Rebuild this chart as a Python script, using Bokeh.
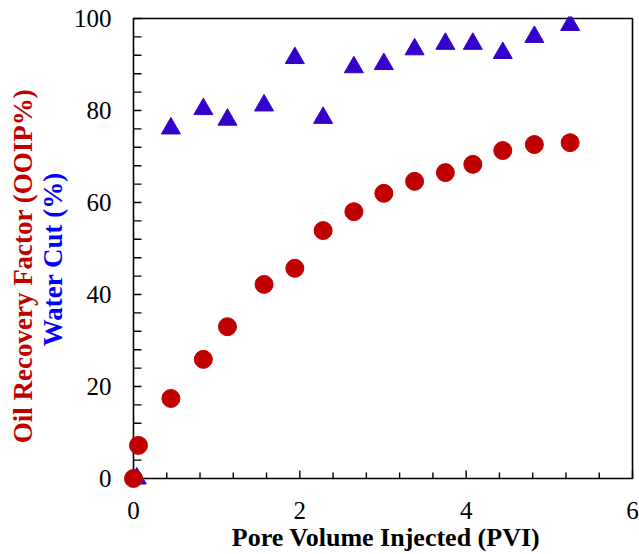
from bokeh.plotting import figure
from bokeh.models import LinearAxis, SingleIntervalTicker, FixedTicker, Range1d
from bokeh.embed import file_html
from bokeh.resources import INLINE

# Oil recovery factor series (red circles)
pvi_oil = [0.00, 0.06, 0.45, 0.84, 1.13, 1.57, 1.94, 2.28, 2.65, 3.01, 3.38, 3.75, 4.08, 4.44, 4.82, 5.25]
oil_recovery = [0.0, 7.2, 17.4, 25.9, 33.0, 42.2, 45.7, 53.9, 58.0, 62.0, 64.6, 66.5, 68.3, 71.3, 72.6, 73.0]

# Water cut series (blue triangles)
pvi_water = [0.04, 0.45, 0.84, 1.13, 1.57, 1.94, 2.28, 2.65, 3.01, 3.38, 3.75, 4.08, 4.44, 4.82, 5.25]
water_cut = [0.0, 76.1, 80.3, 78.0, 81.1, 91.4, 78.4, 89.4, 90.1, 93.3, 94.5, 94.5, 92.5, 96.0, 98.6]

x_label = "Pore Volume Injected (PVI)"
y_label_oil = "Oil Recovery Factor (OOIP%)"
y_label_water = "Water Cut (%)"

# axis limits and tick positions
x_min, x_max = 0, 6
y_min, y_max = 0, 100
x_major_ticks = [0, 2, 4, 6]
x_minor_ticks = [0.4, 0.8, 1.2, 1.6, 2.4, 2.8, 3.2, 3.6, 4.4, 4.8, 5.2, 5.6]
y_ticks = [0, 4, 8, 12, 16, 20, 24, 28, 32, 36, 40, 44, 48, 52, 56, 60,
           64, 68, 72, 76, 80, 84, 88, 92, 96, 100]

# layout (pixels)
W, H = 639, 554
B_LEFT, B_RIGHT, B_TOP, B_BOTTOM = 123, 4, 16, 66
# small margins so markers at the origin and box edges are not clipped
x_pad_lo, x_pad_hi = 0.12, 0.036
y_pad_lo, y_pad_hi = 2.174, 0.435

# tick lengths in pixels, converted to data units through the frame scale
px_per_x = (W - B_LEFT - B_RIGHT) / ((x_max + x_pad_hi) - (x_min - x_pad_lo))
px_per_y = (H - B_TOP - B_BOTTOM) / ((y_max + y_pad_hi) - (y_min - y_pad_lo))
TICK_MAJOR, TICK_MINOR = 8, 6

FONT = "Liberation Serif"
RED = "#C00000"
TRI = "#3300CC"
BLUE = "#0000FF"
NB = "\u00a0"

p = figure(width=W, height=H, output_backend="svg", toolbar_location=None,
           x_range=Range1d(x_min - x_pad_lo, x_max + x_pad_hi),
           y_range=Range1d(y_min - y_pad_lo, y_max + y_pad_hi),
           min_border_left=B_LEFT, min_border_right=B_RIGHT,
           min_border_top=B_TOP, min_border_bottom=B_BOTTOM,
           x_axis_label=NB * 2 + x_label, y_axis_label=y_label_water + NB * 2)
p.grid.visible = False
p.outline_line_color = None
p.background_fill_color = "white"
p.border_fill_color = "white"

# label-only axes at the frame edges
xa = p.xaxis[0]
xa.ticker = FixedTicker(ticks=x_major_ticks)
ya = p.yaxis[0]
ya.ticker = SingleIntervalTicker(interval=20, num_minor_ticks=0)
for ax in (xa, ya):
    ax.axis_line_alpha = 0
    ax.major_tick_in = 0
    ax.major_tick_out = 0
    ax.minor_tick_in = 0
    ax.minor_tick_out = 0
    ax.major_label_text_font = FONT
    ax.major_label_text_font_size = "25px"
    ax.major_label_text_color = "black"
    ax.axis_label_text_font = FONT
    ax.axis_label_text_font_style = "bold"
xa.major_label_standoff = 13
xa.axis_label_standoff = 1
xa.axis_label_text_font_size = "26px"
xa.axis_label_text_color = "black"
ya.major_label_standoff = 12
ya.axis_label_standoff = 3
ya.axis_label_text_font_size = "27px"
ya.axis_label_text_color = BLUE

extra = LinearAxis(axis_label=y_label_oil + NB * 4, ticker=FixedTicker(ticks=[]),
                   axis_line_alpha=0, major_tick_in=0, major_tick_out=0,
                   minor_tick_in=0, minor_tick_out=0,
                   major_label_standoff=0,
                   axis_label_standoff=-3, axis_label_text_font=FONT,
                   axis_label_text_font_size="27px", axis_label_text_font_style="bold",
                   axis_label_text_color=RED)
p.add_layout(extra, "left")

# plot box
p.quad(left=[x_min], right=[x_max], bottom=[y_min], top=[y_max],
       fill_color=None, line_color="black", line_width=1.6)

# inward tick marks on the box's left and bottom sides
n_y = len(y_ticks)
p.segment(x0=[x_min] * n_y, y0=y_ticks, x1=[x_min + TICK_MAJOR / px_per_x] * n_y, y1=y_ticks,
          line_color="black", line_width=1.4)
p.segment(x0=x_major_ticks, y0=[y_min] * len(x_major_ticks), x1=x_major_ticks,
          y1=[y_min + TICK_MAJOR / px_per_y] * len(x_major_ticks),
          line_color="black", line_width=1.4)
p.segment(x0=x_minor_ticks, y0=[y_min] * len(x_minor_ticks), x1=x_minor_ticks,
          y1=[y_min + TICK_MINOR / px_per_y] * len(x_minor_ticks),
          line_color="black", line_width=1.4)

p.scatter(pvi_water, water_cut, marker="triangle", size=19, fill_color=TRI, line_color=TRI)
p.scatter(pvi_oil, oil_recovery, marker="circle", size=18, fill_color=RED, line_color=RED)

open("out.html", "w").write(file_html(p, INLINE))
